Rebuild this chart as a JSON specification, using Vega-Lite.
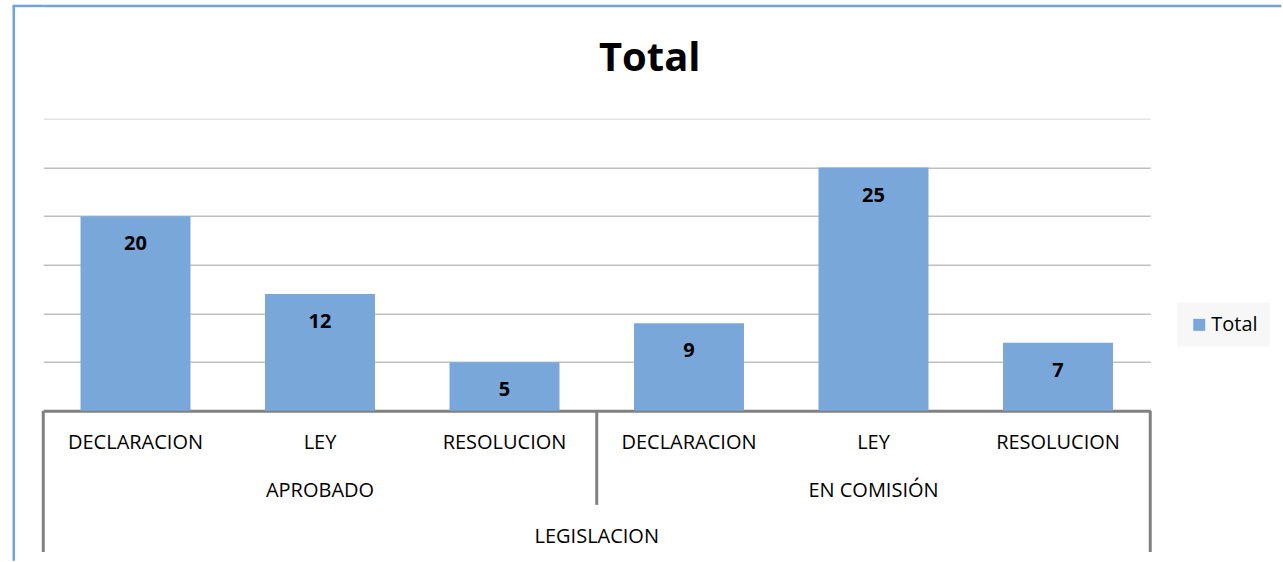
{
  "$schema": "https://vega.github.io/schema/vega-lite/v6.json",
  "autosize": {"type": "pad"},
  "padding": {"left": 11.25, "top": 3.85, "right": 0, "bottom": 0},
  "background": "white",
  "width": 1107,
  "height": 292,
  "data": {"values": [
    {"grupo": "LEGISLACION", "estado": "APROBADO", "tipo": "DECLARACION", "serie": "Total", "total": 20},
    {"grupo": "LEGISLACION", "estado": "APROBADO", "tipo": "LEY", "serie": "Total", "total": 12},
    {"grupo": "LEGISLACION", "estado": "APROBADO", "tipo": "RESOLUCION", "serie": "Total", "total": 5},
    {"grupo": "LEGISLACION", "estado": "EN COMISIÓN", "tipo": "DECLARACION", "serie": "Total", "total": 9},
    {"grupo": "LEGISLACION", "estado": "EN COMISIÓN", "tipo": "LEY", "serie": "Total", "total": 25},
    {"grupo": "LEGISLACION", "estado": "EN COMISIÓN", "tipo": "RESOLUCION", "serie": "Total", "total": 7}
  ]},
  "title": {
    "text": "Total", "font": "Open Sans", "fontSize": 40, "fontWeight": "bold", "color": "black",
    "anchor": "middle", "frame": "group", "baseline": "alphabetic", "offset": -106, "dx": 53
  },
  "layer": [
    {
      "mark": {"type": "bar"},
      "encoding": {
        "x": {
          "field": "estado", "type": "nominal", "sort": ["APROBADO", "EN COMISIÓN"],
          "scale": {"paddingInner": 0, "paddingOuter": 0},
          "axis": {
            "title": null, "labelAngle": 0, "labelFont": "Open Sans", "labelFontSize": 20, "labelColor": "black",
            "ticks": false, "tickSize": 0, "labelPadding": 70,
            "domain": true, "domainColor": "#808080", "domainWidth": 3, "grid": false
          }
        },
        "xOffset": {
          "field": "tipo", "type": "nominal", "sort": ["DECLARACION", "LEY", "RESOLUCION"],
          "scale": {"paddingInner": 0.404, "paddingOuter": 0.202}
        },
        "y": {
          "field": "total", "type": "quantitative", "scale": {"domain": [0, 30]},
          "axis": {
            "title": null, "labels": false, "ticks": false, "domain": false, "grid": true,
            "values": [5, 10, 15, 20, 25, 30],
            "gridColor": {"condition": {"test": "datum.value == 30", "value": "#e4e4e4"}, "value": "#c0c0c0"},
            "gridWidth": 1.5
          }
        },
        "color": {
          "field": "serie", "type": "nominal", "scale": {"range": ["#79a7da"]},
          "legend": {
            "orient": "none", "legendX": 1134, "legendY": 184, "title": null,
            "symbolType": "square", "symbolSize": 144, "symbolStrokeWidth": 0,
            "labelFont": "Open Sans", "labelFontSize": 20, "labelColor": "black", "labelOffset": 2,
            "fillColor": "#f7f7f7", "padding": 12
          }
        }
      }
    },
    {
      "mark": {"type": "text", "font": "Open Sans", "fontSize": 20, "fontWeight": "bold", "color": "black", "baseline": "middle", "dy": 28},
      "encoding": {
        "x": {"field": "estado", "type": "nominal", "sort": ["APROBADO", "EN COMISIÓN"]},
        "xOffset": {"field": "tipo", "type": "nominal", "sort": ["DECLARACION", "LEY", "RESOLUCION"]},
        "y": {"field": "total", "type": "quantitative"},
        "text": {"field": "total", "type": "quantitative"}
      }
    },
    {
      "mark": {"type": "text", "font": "Open Sans", "fontSize": 20, "color": "black", "baseline": "top", "dy": 22},
      "encoding": {
        "x": {"field": "estado", "type": "nominal", "sort": ["APROBADO", "EN COMISIÓN"]},
        "xOffset": {"field": "tipo", "type": "nominal", "sort": ["DECLARACION", "LEY", "RESOLUCION"]},
        "y": {"datum": 0},
        "text": {"field": "tipo", "type": "nominal"}
      }
    },
    {
      "transform": [{"filter": "datum.estado == 'APROBADO' && datum.tipo == 'DECLARACION'"}],
      "mark": {"type": "text", "font": "Open Sans", "fontSize": 20, "color": "black", "baseline": "top", "dy": 116},
      "encoding": {
        "x": {"field": "estado", "type": "nominal", "sort": ["APROBADO", "EN COMISIÓN"], "bandPosition": 1},
        "y": {"datum": 0},
        "text": {"field": "grupo", "type": "nominal"}
      }
    },
    {
      "transform": [{"filter": "datum.tipo == 'DECLARACION' && datum.estado == 'APROBADO'"}],
      "mark": {"type": "rule", "color": "#808080", "strokeWidth": 3},
      "encoding": {
        "x": {"field": "estado", "type": "nominal", "sort": ["APROBADO", "EN COMISIÓN"], "bandPosition": 0},
        "y": {"datum": 0},
        "y2": {"datum": -14.5}
      }
    },
    {
      "transform": [{"filter": "datum.tipo == 'DECLARACION' && datum.estado == 'EN COMISIÓN'"}],
      "mark": {"type": "rule", "color": "#808080", "strokeWidth": 3},
      "encoding": {
        "x": {"field": "estado", "type": "nominal", "sort": ["APROBADO", "EN COMISIÓN"], "bandPosition": 0},
        "y": {"datum": 0},
        "y2": {"datum": -9.66}
      }
    },
    {
      "transform": [{"filter": "datum.tipo == 'DECLARACION' && datum.estado == 'EN COMISIÓN'"}],
      "mark": {"type": "rule", "color": "#808080", "strokeWidth": 3},
      "encoding": {
        "x": {"field": "estado", "type": "nominal", "sort": ["APROBADO", "EN COMISIÓN"], "bandPosition": 1},
        "y": {"datum": 0},
        "y2": {"datum": -14.5}
      }
    },
    {
      "transform": [{"filter": "datum.tipo == 'DECLARACION' && datum.estado == 'APROBADO'"}],
      "mark": {"type": "rule", "color": "#6fa3dc", "strokeWidth": 2.5, "xOffset": -29.5},
      "encoding": {
        "x": {"field": "estado", "type": "nominal", "sort": ["APROBADO", "EN COMISIÓN"], "bandPosition": 0},
        "y": {"datum": 41.6},
        "y2": {"datum": -15.4}
      }
    },
    {
      "transform": [{"filter": "datum.tipo == 'DECLARACION' && datum.estado == 'APROBADO'"}],
      "mark": {"type": "rule", "color": "#6fa3dc", "strokeWidth": 2.5, "xOffset": 131},
      "encoding": {
        "y": {"datum": 41.6}
      }
    },
    {
      "transform": [{"filter": "datum.tipo == 'DECLARACION' && datum.estado == 'APROBADO'"}],
      "mark": {"type": "rule", "color": "#6fa3dc", "strokeWidth": 2.5, "xOffset": -1137.75},
      "encoding": {
        "y": {"datum": 41.6}
      }
    }
  ],
  "config": {
    "view": {"stroke": null}
  }
}
